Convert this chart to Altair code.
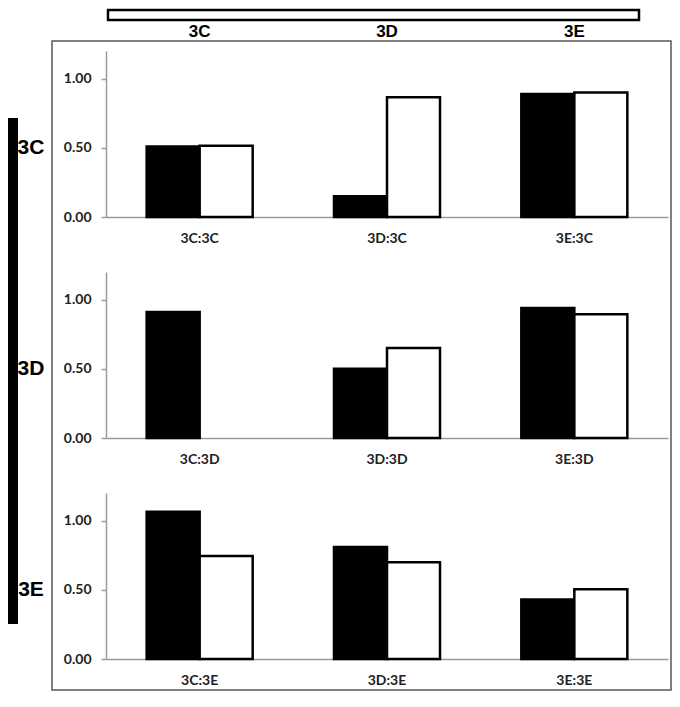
import altair as alt
import pandas as pd

rows = ["3C", "3D", "3E"]
cols = ["3C", "3D", "3E"]
series = ["A", "B"]
black_vals = [[0.51, 0.15, 0.89], [0.91, 0.50, 0.94], [1.065, 0.81, 0.43]]
white_vals = [[0.515, 0.865, 0.90], [0.0, 0.65, 0.895], [0.745, 0.70, 0.505]]
y_ticks = [0.0, 0.5, 1.0]

PANEL_W = 562
PANEL_H = 166
SPACING = 55
AXIS_GRAY = "#9a9a9a"


def panel(i):
    r = rows[i]
    groups = [f"{c}:{r}" for c in cols]
    df = pd.DataFrame({
        "group": groups * 2,
        "series": [series[0]] * 3 + [series[1]] * 3,
        "value": black_vals[i] + white_vals[i],
    })
    xenc = alt.X(
        "group:N", sort=groups,
        scale=alt.Scale(paddingInner=0, paddingOuter=0),
        axis=alt.Axis(title=None, ticks=True, tickSize=10, tickOpacity=0,
                      labelAngle=0, labelAlign="center", labelBaseline="middle",
                      labelPadding=11, labelFont="Lato", labelFontWeight="bold",
                      labelFontSize=14, labelColor="#222222",
                      domainColor=AXIS_GRAY, domainWidth=1.5),
    )
    bars = alt.Chart(df).mark_bar(strokeWidth=2.5).encode(
        x=xenc,
        xOffset=alt.XOffset("series:N", sort=series,
                            scale=alt.Scale(paddingInner=0, paddingOuter=0.767)),
        y=alt.Y("value:Q",
                scale=alt.Scale(domain=[0, 1.2], nice=False, zero=True),
                axis=alt.Axis(title=None, values=y_ticks, format=".2f", grid=False,
                              tickSize=5, tickColor=AXIS_GRAY, tickWidth=1.5,
                              domainColor=AXIS_GRAY, domainWidth=1.5,
                              labelPadding=10, labelFont="Lato",
                              labelFontWeight="bold", labelFontSize=14,
                              labelColor="#222222")),
        fill=alt.Fill("series:N", scale=alt.Scale(domain=series, range=["black", "white"]),
                      legend=None),
        stroke=alt.condition("datum.value > 0", alt.value("black"), alt.value("transparent")),
    )
    rowlab = alt.Chart(pd.DataFrame({"row": [r]})).mark_text(
        font="Liberation Sans", fontWeight="bold", fontSize=21,
        align="center", baseline="middle", color="black",
    ).encode(x=alt.value(-75), y=alt.datum(0.5), text="row:N")

    layers = []
    if i == 0:
        deco = pd.DataFrame({"k": [0]})
        box = alt.Chart(deco).mark_rect(fillOpacity=0, stroke="#555555", strokeWidth=1.5).encode(
            x=alt.value(-54), x2=alt.value(565), y=alt.value(-10), y2=alt.value(639))
        topbar = alt.Chart(deco).mark_rect(fill="white", stroke="black", strokeWidth=2.5).encode(
            x=alt.value(2), x2=alt.value(533), y=alt.value(-41), y2=alt.value(-31))
        leftbar = alt.Chart(deco).mark_rect(fill="black").encode(
            x=alt.value(-98), x2=alt.value(-88), y=alt.value(67), y2=alt.value(573))
        hdr = pd.DataFrame({"group": groups, "label": cols})
        header = alt.Chart(hdr).mark_text(
            font="Liberation Sans", fontWeight="bold", fontSize=17,
            align="center", baseline="middle", color="black",
        ).encode(x=alt.X("group:N", sort=groups), y=alt.value(-19), text="label:N")
        layers = [box, topbar, leftbar, header]
    return alt.layer(*layers, bars, rowlab).properties(width=PANEL_W, height=PANEL_H)


chart = alt.vconcat(panel(0), panel(1), panel(2), spacing=SPACING, bounds="flush").properties(
    padding={"left": 0, "top": 0, "right": 0, "bottom": 0},
    background="white",
).configure_view(strokeWidth=0)

chart.save("out.html", embed_options={"renderer": "svg", "actions": False})
